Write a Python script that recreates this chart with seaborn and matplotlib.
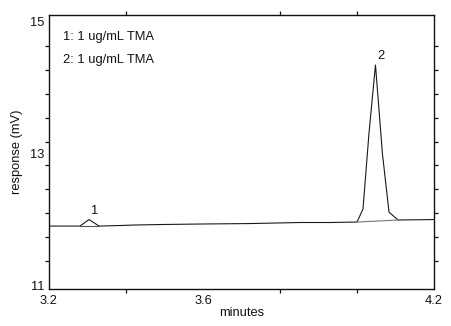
import numpy as np
import pandas as pd
import matplotlib
matplotlib.use("Agg")
import matplotlib.pyplot as plt
from matplotlib.ticker import FixedLocator
import seaborn as sns

# chromatogram trace (minutes, mV)
time_min = [3.200, 3.2805, 3.304, 3.330, 3.384, 3.423, 3.488, 3.592, 3.722, 3.852,
            3.930, 4.000, 4.0156, 4.031, 4.048, 4.066, 4.0831, 4.1065, 4.200]
response_mv = [11.897, 11.897, 11.996, 11.897, 11.905, 11.913, 11.920, 11.928, 11.935, 11.951,
               11.951, 11.958, 12.156, 13.30, 14.346, 13.00, 12.110, 11.989, 11.996]

# integration baselines under peaks
base1_t = [3.2805, 3.330]
base1_v = [11.897, 11.897]
base2_t = [4.000, 4.1065]
base2_v = [11.958, 11.989]

# peak labels
peak_ids = ["1", "2"]
peak_t = [3.304, 4.048]
peak_v = [11.996, 14.346]

legend_lines = ["1: 1 ug/mL TMA", "2: 1 ug/mL TMA"]

x_major = [3.2, 3.6, 4.2]
x_major_labels = ["3.2", "3.6", "4.2"]
x_minor = [3.4, 3.8, 4.0]
y_major = [11, 13, 15]
y_major_labels = ["11", "13", "15"]
y_minor = list(np.linspace(11, 15, 12))

FS = 9.3

sns.set_style("white")
plt.rcParams['font.family'] = ['Liberation Sans', 'DejaVu Sans']

fig = plt.figure(figsize=(4.52, 3.26), dpi=100)
ax = fig.add_axes([49/452, 1-289/326, (434-49)/452, (289-15)/326])

df = pd.DataFrame({"t": time_min, "v": response_mv})
sns.lineplot(data=df, x="t", y="v", ax=ax, sort=False, estimator=None,
             color="#1a1a1a", linewidth=0.8)
ax.plot(base1_t, base1_v, color="#555555", linewidth=0.8)
ax.plot(base2_t, base2_v, color="#777777", linewidth=0.8)

for pid, t, v in zip(peak_ids, peak_t, peak_v):
    ax.annotate(pid, (t, v), xytext=(4, 6.5), textcoords="offset points",
                ha="center", va="center", fontsize=FS, color="#111111")

for i, txt in enumerate(legend_lines):
    ax.text(0.036, 0.920 - i*0.084, txt, transform=ax.transAxes,
            ha="left", va="center", fontsize=FS, color="#111111")

ax.set_xlim(3.2, 4.2)
ax.set_ylim(10.94, 15.106)

ax.xaxis.set_major_locator(FixedLocator(x_major))
ax.set_xticklabels(x_major_labels)
ax.xaxis.set_minor_locator(FixedLocator(x_minor))
ax.yaxis.set_major_locator(FixedLocator(y_major))
ax.set_yticklabels(y_major_labels)
ax.yaxis.set_minor_locator(FixedLocator(y_minor))

ax.tick_params(axis="both", which="major", length=0, labelsize=FS, pad=3,
               colors="#111111")
ax.tick_params(axis="both", which="minor", length=3, width=0.9, direction="out",
               color="#111111")
ax.tick_params(axis="x", which="minor", top=True, bottom=True)
ax.tick_params(axis="y", which="minor", left=True, right=True)
ax.tick_params(axis="x", which="major", pad=4)

for s in ax.spines.values():
    s.set_visible(True)
    s.set_color("#111111")
    s.set_linewidth(1.0)

ax.set_xlabel("minutes", fontsize=FS, labelpad=0, color="#111111")
ax.set_ylabel("response (mV)", fontsize=FS, labelpad=5.5, color="#111111")

fig.savefig("out.png", dpi=100, facecolor="white")
